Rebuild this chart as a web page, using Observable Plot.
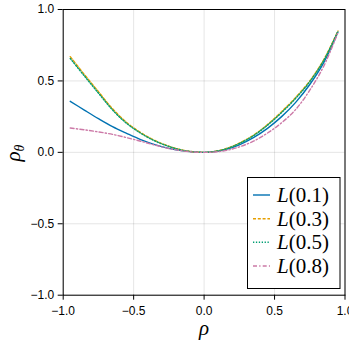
<!DOCTYPE html>
<html><head><meta charset="utf-8">
<script src="https://cdn.jsdelivr.net/npm/d3@7"></script>
<script src="https://cdn.jsdelivr.net/npm/@observablehq/plot@0.6"></script>
<style>body{margin:0;background:#fff}#chart{width:349px;height:349px}</style>
</head><body><div id="chart"></div>
<script>
const rho = [-0.95,-0.85,-0.75,-0.65,-0.55,-0.45,-0.35,-0.25,-0.15,-0.05,0,0.05,0.15,0.25,0.35,0.45,0.55,0.65,0.75,0.85,0.95];
const seriesNames = ["L(0.1)","L(0.3)","L(0.5)","L(0.8)"];
const L01 = [0.357,0.296,0.236,0.180,0.133,0.089,0.054,0.028,0.010,0.001,0,0.002,0.019,0.053,0.103,0.168,0.250,0.350,0.475,0.630,0.843];
const L03 = [0.670,0.545,0.425,0.305,0.209,0.138,0.083,0.043,0.015,0.002,0,0.003,0.024,0.065,0.120,0.195,0.285,0.385,0.500,0.650,0.850];
const L05 = [0.657,0.535,0.415,0.297,0.203,0.134,0.080,0.041,0.014,0.002,0,0.003,0.022,0.062,0.116,0.190,0.278,0.378,0.495,0.645,0.848];
const L08 = [0.170,0.158,0.143,0.126,0.103,0.078,0.051,0.027,0.010,0.001,0,0.001,0.012,0.038,0.078,0.135,0.207,0.300,0.435,0.605,0.838];
const xTicks = [-1,-0.5,0,0.5,1];
const yTicks = [-1,-0.5,0,0.5,1];
const colors = ["#0072B2","#E69F00","#009E73","#CC79A7"];
const dashes = ["none","3,1.8","1.3,1.6","4,2.2,1.3,2.2"];

const allSeries = [L01,L03,L05,L08];
const table = allSeries.flatMap((vals,i)=>vals.map((v,j)=>({series:seriesNames[i], rho:rho[j], value:v})));

const lineMarks = seriesNames.map((name,i)=>Plot.line(table.filter(d=>d.series===name),{
  x:"rho", y:"value", stroke:colors[i], strokeWidth:1.4, strokeDasharray:dashes[i], curve:"catmull-rom"
}));

const svg = Plot.plot({
  width:349, height:349,
  marginLeft:62.7, marginRight:4.5, marginTop:9, marginBottom:54.3,
  style:{fontFamily:"'Liberation Sans', Arial, sans-serif", fontSize:"12px", background:"#fff", color:"#000"},
  x:{domain:[-1,1], label:null},
  y:{domain:[-1,1], label:null},
  marks:[
    Plot.gridX(xTicks,{stroke:"#000", strokeOpacity:0.1, strokeWidth:1}),
    Plot.gridY(yTicks,{stroke:"#000", strokeOpacity:0.1, strokeWidth:1}),
    ...lineMarks,
    Plot.frame({stroke:"#000", strokeWidth:1}),
    Plot.axisX({ticks:xTicks, tickFormat:d3.format(".1f"), tickSize:5, tickPadding:6, fontSize:12, label:null}),
    Plot.axisY({ticks:yTicks, tickFormat:d3.format(".1f"), tickSize:5, tickPadding:4, fontSize:12, label:null})
  ]
});

const s = d3.select(svg);
// axis labels
s.append("text").attr("x",204).attr("y",335).attr("text-anchor","middle")
  .attr("font-family","'Liberation Serif', serif").attr("font-style","italic").attr("font-size",21).text("ρ");
const yl = s.append("text").attr("transform","translate(20,153) rotate(-90)").attr("text-anchor","middle")
  .attr("font-family","'Liberation Serif', serif").attr("font-style","italic").attr("font-size",21);
yl.append("tspan").text("ρ");
yl.append("tspan").attr("font-size",14).attr("dy",4).text("θ");

// legend
const lg = s.append("g");
lg.append("rect").attr("x",247.5).attr("y",177.5).attr("width",92.5).attr("height",111)
  .attr("fill","#fff").attr("stroke","#000").attr("stroke-width",1);
const ly = [195,218.7,242.3,266];
seriesNames.forEach((name,i)=>{
  lg.append("line").attr("x1",253).attr("x2",270).attr("y1",ly[i]).attr("y2",ly[i])
    .attr("stroke",colors[i]).attr("stroke-width",1.4).attr("stroke-dasharray",dashes[i]);
  const m = name.match(/^L(.*)$/);
  const t = lg.append("text").attr("x",277).attr("y",ly[i]+7).attr("text-anchor","start")
    .attr("font-family","'Liberation Serif', serif").attr("font-size",21).attr("fill","#000");
  t.append("tspan").attr("font-style","italic").text("L");
  t.append("tspan").text(m[1]);
});

document.getElementById("chart").appendChild(svg);
</script>
</body></html>
